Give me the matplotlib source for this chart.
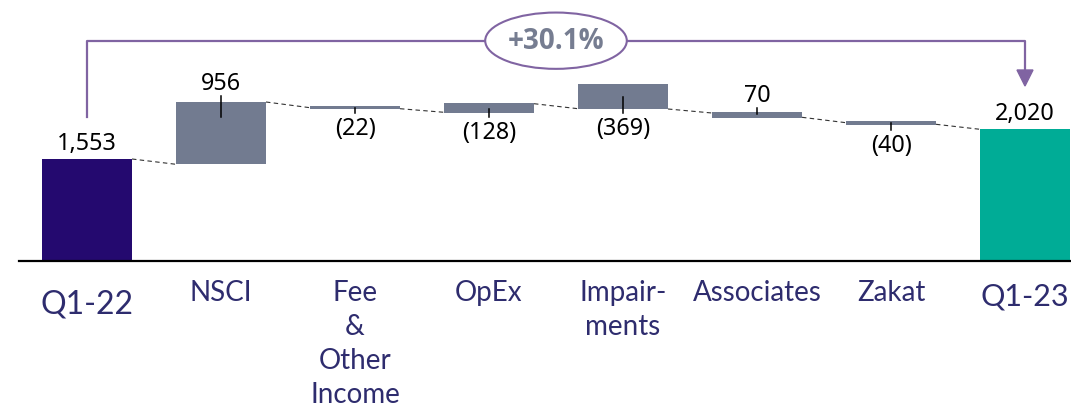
import matplotlib
matplotlib.use('Agg')
import matplotlib.pyplot as plt
from matplotlib.patches import Ellipse

# categories and values shown on the chart
categories = ['Q1-22', 'NSCI', 'Fee\n&\nOther\nIncome', 'OpEx', 'Impair-\nments',
              'Associates', 'Zakat', 'Q1-23']
values = [1553, 956, -22, -128, -369, 70, -40, 2020]

# the bars are not drawn to scale in the original, so extents are read off the picture
bar_bottom = [0, 96.7, 152.3, 147.7, 152.0, 143.3, 135.7, 0]
bar_top = [102.0, 159.3, 155.3, 157.7, 177.0, 148.7, 140.0, 131.7]

# dashed connector levels (leaving bar i / entering bar i+1)
link_out = [102.0, 159.0, 152.3, 157.3, 152.0, 143.7, 136.7]
link_in = [96.7, 153.3, 148.7, 152.3, 148.0, 138.3, 131.7]

# small leader ticks between value labels and bars
leader_lo = [None, 143.7, 147.7, 143.7, 148.3, 146.7, 131.0, None]
leader_hi = [None, 165.0, 153.3, 152.0, 164.3, 152.7, 137.7, None]

c_start = '#24096f'
c_end = '#00ac96'
c_step = '#727b90'
c_purple = '#8064a2'
c_cat = '#2e2c6e'

fig = plt.figure(figsize=(10.71, 4.07), dpi=100)
ax = fig.add_axes([0, 0, 1, 1])
ax.set_xlim(-87 / 134, 984 / 134)
ax.set_ylim(-146, 261)
ax.axis('off')

n = len(values)
w = 90 / 134
colors = [c_start] + [c_step] * (n - 2) + [c_end]
heights = [t - b for t, b in zip(bar_top, bar_bottom)]
ax.bar(range(n), heights, bottom=bar_bottom, width=w, color=colors, zorder=2)

# baseline
ax.plot([-68 / 134, 984 / 134], [0, 0], color='black', lw=1.6, zorder=3)

# connectors
for i in range(n - 1):
    ax.plot([i + w / 2, i + 1 - w / 2], [link_out[i], link_in[i]], color='#333333',
            lw=0.8, ls=(0, (4, 3)), zorder=1)

# value labels
for i, v in enumerate(values):
    if v >= 0:
        txt = f'{v:,}'
    else:
        txt = f'({-v:,})'
    if leader_lo[i] is not None:
        ax.plot([i, i], [leader_lo[i], leader_hi[i]], color='black', lw=1.1, zorder=3)
    if i == 0 or i == n - 1:
        yy = bar_top[i] + 9
    elif v >= 0:
        yy = leader_hi[i] + 6
    else:
        yy = leader_lo[i] - 22
    ax.text(i, yy, txt, ha='center', va='baseline', fontsize=16.8,
            family='Noto Sans', color='black')

# category labels, one text per line
for i, c in enumerate(categories):
    if i == 0:
        ax.text(i, -53, c, ha='center', va='baseline', fontsize=23,
                family='Lato', color=c_cat)
    elif i == n - 1:
        ax.text(i, -44, c, ha='center', va='baseline', fontsize=22,
                family='Lato', color=c_cat)
    else:
        for k, line in enumerate(c.split('\n')):
            ax.text(i, -39.7 - 34.2 * k, line, ha='center', va='baseline', fontsize=20,
                    family='Lato', color=c_cat)

# growth bracket from first to last bar
growth = (values[-1] / values[0] - 1) * 100
top = 220.3
mid = (n - 1) / 2
ew = 141.6 / 134
ax.plot([0, 0, mid - ew / 2], [144, top, top], color=c_purple, lw=1.6, zorder=3)
ax.plot([mid + ew / 2, n - 1, n - 1], [top, top, 191], color=c_purple, lw=1.6, zorder=3)
ax.fill([n - 1 - 8 / 134, n - 1 + 8 / 134, n - 1], [191, 191, 175], color=c_purple, zorder=3)
ax.add_patch(Ellipse((mid, top), ew, 56.3, facecolor='white', edgecolor=c_purple,
                     lw=1.5, zorder=4))
ax.text(mid, top - 8.5, f'+{growth:.1f}%', ha='center', va='baseline', fontsize=20,
        family='Open Sans', weight='bold', color='#767d91', zorder=5)

plt.savefig('out.png', dpi=100)
